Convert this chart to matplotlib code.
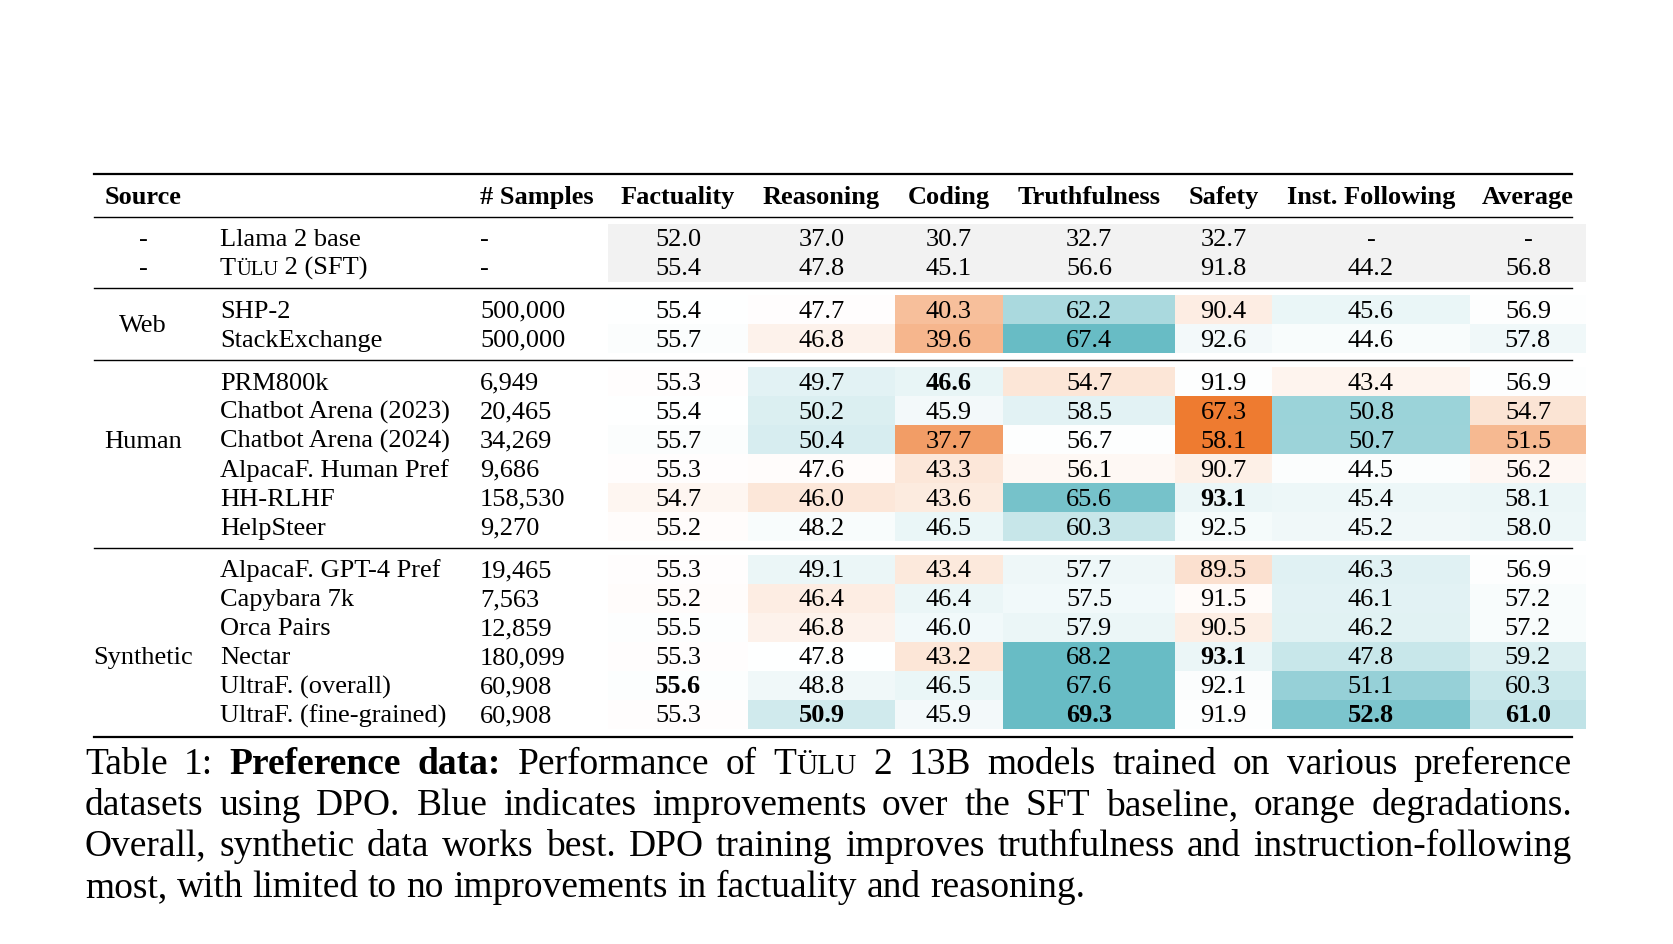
import numpy as np
import matplotlib
matplotlib.use('Agg')
import matplotlib.pyplot as plt
from matplotlib.colors import LinearSegmentedColormap, Normalize
from matplotlib.patches import Rectangle

plt.rcParams['font.family'] = ['Liberation Serif', 'DejaVu Serif']

# Table data.
metrics = ['Factuality', 'Reasoning', 'Coding', 'Truthfulness', 'Safety', 'Inst. Following', 'Average']
groups = ['-', 'Web', 'Human', 'Synthetic']
groupSizes = [2, 2, 6, 6]
names = ['Llama 2 base', 'TÜLU 2 (SFT)', 'SHP-2', 'StackExchange', 'PRM800k', 'Chatbot Arena (2023)',
         'Chatbot Arena (2024)', 'AlpacaF. Human Pref', 'HH-RLHF', 'HelpSteer', 'AlpacaF. GPT-4 Pref',
         'Capybara 7k', 'Orca Pairs', 'Nectar', 'UltraF. (overall)', 'UltraF. (fine-grained)']
samples = [None, None, '500,000', '500,000', '6,949', '20,465', '34,269', '9,686', '158,530', '9,270',
           '19,465', '7,563', '12,859', '180,099', '60,908', '60,908']
factuality = [52.0, 55.4, 55.4, 55.7, 55.3, 55.4, 55.7, 55.3, 54.7, 55.2, 55.3, 55.2, 55.5, 55.3, 55.6, 55.3]
reasoning = [37.0, 47.8, 47.7, 46.8, 49.7, 50.2, 50.4, 47.6, 46.0, 48.2, 49.1, 46.4, 46.8, 47.8, 48.8, 50.9]
coding = [30.7, 45.1, 40.3, 39.6, 46.6, 45.9, 37.7, 43.3, 43.6, 46.5, 43.4, 46.4, 46.0, 43.2, 46.5, 45.9]
truthfulness = [32.7, 56.6, 62.2, 67.4, 54.7, 58.5, 56.7, 56.1, 65.6, 60.3, 57.7, 57.5, 57.9, 68.2, 67.6, 69.3]
safety = [32.7, 91.8, 90.4, 92.6, 91.9, 67.3, 58.1, 90.7, 93.1, 92.5, 89.5, 91.5, 90.5, 93.1, 92.1, 91.9]
instFollowing = [None, 44.2, 45.6, 44.6, 43.4, 50.8, 50.7, 44.5, 45.4, 45.2, 46.3, 46.1, 46.2, 47.8, 51.1, 52.8]
average = [None, 56.8, 56.9, 57.8, 56.9, 54.7, 51.5, 56.2, 58.1, 58.0, 56.9, 57.2, 57.2, 59.2, 60.3, 61.0]
boldCells = [('PRM800k', 'Coding'), ('HH-RLHF', 'Safety'), ('Nectar', 'Safety'),
             ('UltraF. (overall)', 'Factuality'), ('UltraF. (fine-grained)', 'Reasoning'),
             ('UltraF. (fine-grained)', 'Truthfulness'), ('UltraF. (fine-grained)', 'Inst. Following'),
             ('UltraF. (fine-grained)', 'Average')]
baselineRow = 1

# Layout (pixels).
W, H = 1674, 944
fs = 19
colEdges = [608, 748, 895, 1003, 1175, 1272, 1470, 1586]
xSource, xName, xSamples = 143, 220, 480
y0, rowH, groupGap = 238, 29.0, 13.8
sourceRowPos = [None, 0.5, 2, 3]
ruleL, ruleR = 94, 1572

values = np.array([[np.nan if v is None else v for v in col] for col in
                   [factuality, reasoning, coding, truthfulness, safety, instFollowing, average]]).T
cmap = LinearSegmentedColormap.from_list('pref', ['#EE7B30', '#FFFFFF', '#68BCC5'])
norm = Normalize(-10, 10, clip=True)

fig = plt.figure(figsize=(W/100, H/100), dpi=100)
ax = fig.add_axes([0, 0, 1, 1])
ax.set_xlim(0, W); ax.set_ylim(H, 0); ax.axis('off')

def tulu(x, y, size, ha='left', weight='normal'):
    # T followed by small caps ÜLU
    r = fig.canvas.get_renderer()
    t1 = ax.text(x, y, 'T', fontsize=size, va='baseline', ha='left', weight=weight)
    w1 = t1.get_window_extent(r).width
    t2 = ax.text(x+w1, y, 'ÜLU', fontsize=size*0.78, va='baseline', ha='left', weight=weight)
    return w1 + t2.get_window_extent(r).width

# Row positions.
rowY = []
for g, n in enumerate(groupSizes):
    for k in range(n):
        rowY.append(y0 + len(rowY)*rowH + g*groupGap)
rowY = np.array(rowY)

# Cells.
for i in range(len(names)):
    for j in range(len(metrics)):
        if i <= baselineRow:
            color = '#F2F2F2'
        else:
            color = cmap(norm(values[i, j]-values[baselineRow, j]))
        ax.add_patch(Rectangle((colEdges[j], rowY[i]-rowH/2), colEdges[j+1]-colEdges[j], rowH,
                               facecolor=color, edgecolor='none', zorder=0))
        txt = '-' if np.isnan(values[i, j]) else '%.1f' % values[i, j]
        bold = (names[i], metrics[j]) in boldCells
        ax.text((colEdges[j]+colEdges[j+1])/2, rowY[i]+8, txt, fontsize=fs, ha='center', va='baseline',
                weight='bold' if bold else 'normal')
    if names[i].startswith('TÜLU'):
        w = tulu(xName, rowY[i]+8, fs)
        ax.text(xName+w, rowY[i]+8, ' 2 (SFT)', fontsize=fs, va='baseline')
    else:
        ax.text(xName, rowY[i]+8, names[i], fontsize=fs, va='baseline')
    ax.text(xSamples, rowY[i]+8, samples[i] if samples[i] else '-', fontsize=fs, va='baseline')

# Source labels.
start = 0
for g, n in enumerate(groupSizes):
    if sourceRowPos[g] is None:
        for k in range(n):
            ax.text(xSource, rowY[start+k]+8, groups[g], fontsize=fs, ha='center', va='baseline')
    else:
        yy = np.interp(sourceRowPos[g], np.arange(n), rowY[start:start+n])
        ax.text(xSource, yy+8, groups[g], fontsize=fs, ha='center', va='baseline')
    start += n

# Header.
yHead = 204
ax.text(105, yHead, 'Source', fontsize=fs, weight='bold', va='baseline')
ax.text(xSamples, yHead, '# Samples', fontsize=fs, weight='bold', va='baseline')
for j, m in enumerate(metrics):
    ax.text((colEdges[j]+colEdges[j+1])/2, yHead, m, fontsize=fs, weight='bold', ha='center', va='baseline')

# Rules.
ax.plot([ruleL, ruleR], [174, 174], color='black', lw=1.6)
ax.plot([ruleL, ruleR], [217, 217], color='black', lw=1.0)
ends = np.cumsum(groupSizes)
for e in ends[:-1]:
    yy = (rowY[e-1]+rowY[e])/2
    ax.plot([ruleL, ruleR], [yy, yy], color='black', lw=1.0)
ax.plot([ruleL, ruleR], [737, 737], color='black', lw=1.6)

# Caption, justified.
capFs = 27
capLeft, capRight = 85, 1572
capLines = [
    [[('Table', 'n')], [('1:', 'n')], [('Preference', 'b')], [('data:', 'b')], [('Performance', 'n')], [('of', 'n')],
     [('T', 'n'), ('ÜLU', 's')], [('2', 'n')], [('13B', 'n')], [('models', 'n')], [('trained', 'n')], [('on', 'n')],
     [('various', 'n')], [('preference', 'n')]],
    'datasets using DPO. Blue indicates improvements over the SFT baseline, orange degradations.',
    'Overall, synthetic data works best. DPO training improves truthfulness and instruction-following',
    'most, with limited to no improvements in factuality and reasoning.',
]
capY = [774, 815, 856, 897]
r = fig.canvas.get_renderer()

def seg_width(s, style):
    t = ax.text(0, 0, s, fontsize=capFs*(0.78 if style == 's' else 1), weight='bold' if style == 'b' else 'normal')
    w = t.get_window_extent(r).width
    t.remove()
    return w

spaceW = seg_width('a a', 'n') - seg_width('aa', 'n')
for li, line in enumerate(capLines):
    if isinstance(line, str):
        line = [[(wd, 'n')] for wd in line.split(' ')]
    widths = [sum(seg_width(s, st) for s, st in wd) for wd in line]
    if li < len(capLines)-1:
        gap = (capRight-capLeft-sum(widths))/(len(line)-1)
    else:
        gap = spaceW
    x = capLeft
    for wd, w in zip(line, widths):
        xx = x
        for s, st in wd:
            ax.text(xx, capY[li], s, fontsize=capFs*(0.78 if st == 's' else 1),
                    weight='bold' if st == 'b' else 'normal', va='baseline')
            xx += seg_width(s, st)
        x += w + gap

fig.savefig('out.png', dpi=100)
